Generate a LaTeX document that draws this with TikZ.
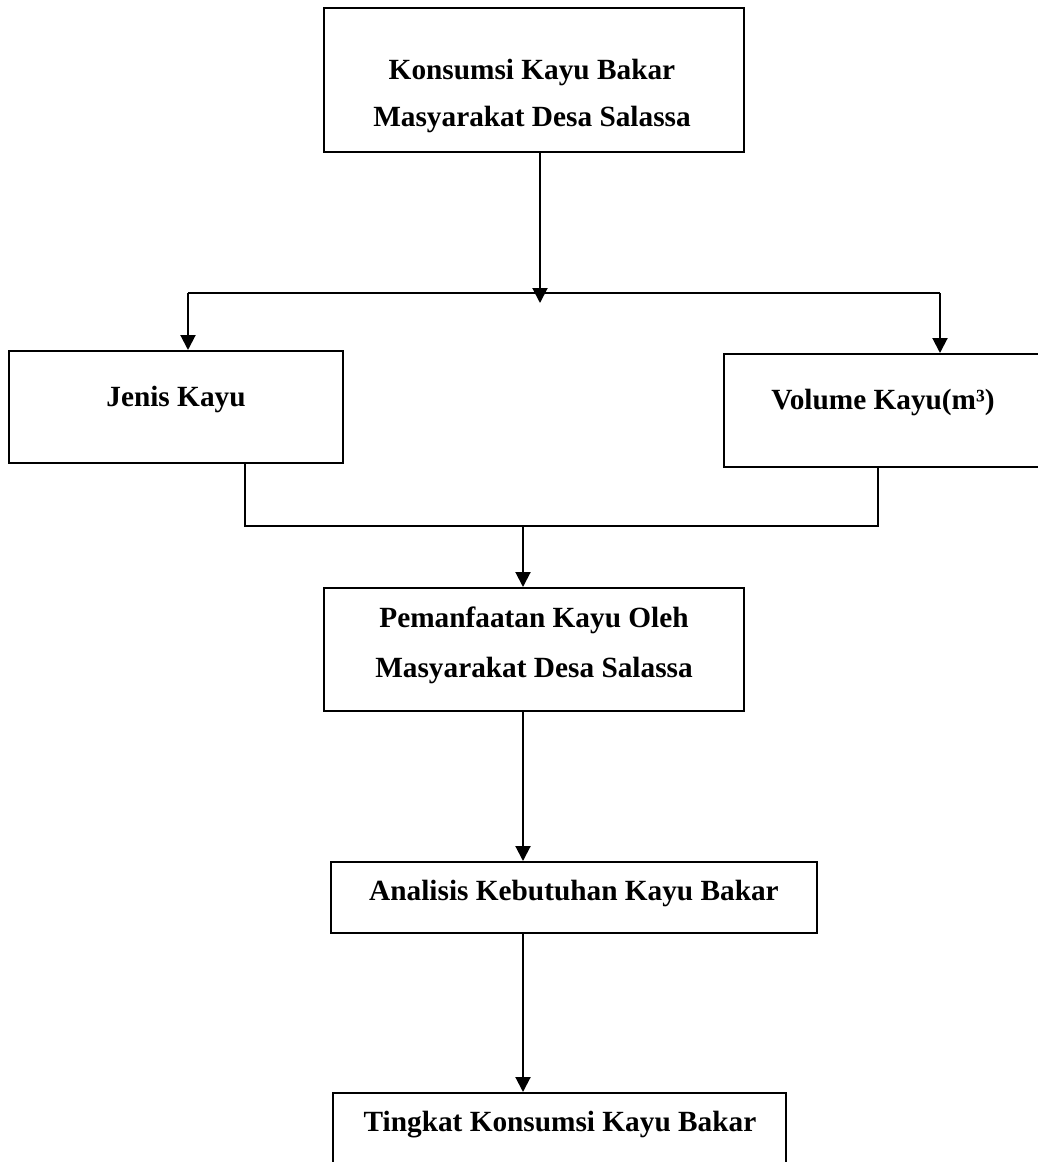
\documentclass[tikz,border=0pt]{standalone}
\usepackage{fontspec}
\setmainfont{Liberation Serif}
\usetikzlibrary{arrows.meta}

\begin{document}
\begin{tikzpicture}[x=1bp,y=-1bp,line width=2bp,
  boxnode/.style={draw,inner sep=0pt},
  boxtext/.style={font=\fontsize{29.3bp}{47bp}\selectfont\bfseries,align=center,anchor=base},
  arr/.style={-{Triangle[length=15bp,width=15bp]}}]
\useasboundingbox (0,0) rectangle (1038,1162);
% boxes
\node[boxnode,minimum width=420bp,minimum height=144bp] (konsumsi) at (534,80) {};
\node[boxnode,minimum width=334bp,minimum height=112bp] (jenis) at (176,407) {};
\node[boxnode,minimum width=318bp,minimum height=113bp] (volume) at (883,410.5) {};
\node[boxnode,minimum width=420bp,minimum height=123bp] (pemanfaatan) at (534,649.5) {};
\node[boxnode,minimum width=486bp,minimum height=71bp] (analisis) at (574,897.5) {};
\node[boxnode,minimum width=453bp,minimum height=82bp] (tingkat) at (559.5,1134) {};
% texts (base = last line)
\node[boxtext] (konsumsiT) at (532,126) {Konsumsi Kayu Bakar\\Masyarakat Desa Salassa};
\node[boxtext] (jenisT) at (176,406) {Jenis Kayu};
\node[boxtext] (volumeT) at (883,409) {Volume Kayu(m³)};
\node[boxtext] (pemanfaatanT) at (534,677) {Pemanfaatan Kayu Oleh\\[3bp]Masyarakat Desa Salassa};
\node[boxtext] (analisisT) at (574,900) {Analisis Kebutuhan Kayu Bakar};
\node[boxtext] (tingkatT) at (560,1131) {Tingkat Konsumsi Kayu Bakar};
% connectors
\coordinate (cabang) at (540,303);
\coordinate (kiri) at (188,293);
\coordinate (kanan) at (940,293);
\coordinate (gabungL) at (245,526);
\coordinate (gabungR) at (878,526);
\coordinate (gabung) at (523,526);
\draw (kiri) -- (kanan);
\draw[arr] (konsumsi.south -| cabang) -- (cabang);
\draw[arr] (kiri) -- (kiri |- jenis.north);
\draw[arr] (kanan) -- (kanan |- volume.north);
\draw (jenis.south -| gabungL) -- (gabungL) -- (gabungR) -- (volume.south -| gabungR);
\draw[arr] (gabung) -- (gabung |- pemanfaatan.north);
\draw[arr] (pemanfaatan.south -| gabung) -- (gabung |- analisis.north);
\draw[arr] (analisis.south -| gabung) -- (gabung |- tingkat.north);
\end{tikzpicture}
\end{document}
